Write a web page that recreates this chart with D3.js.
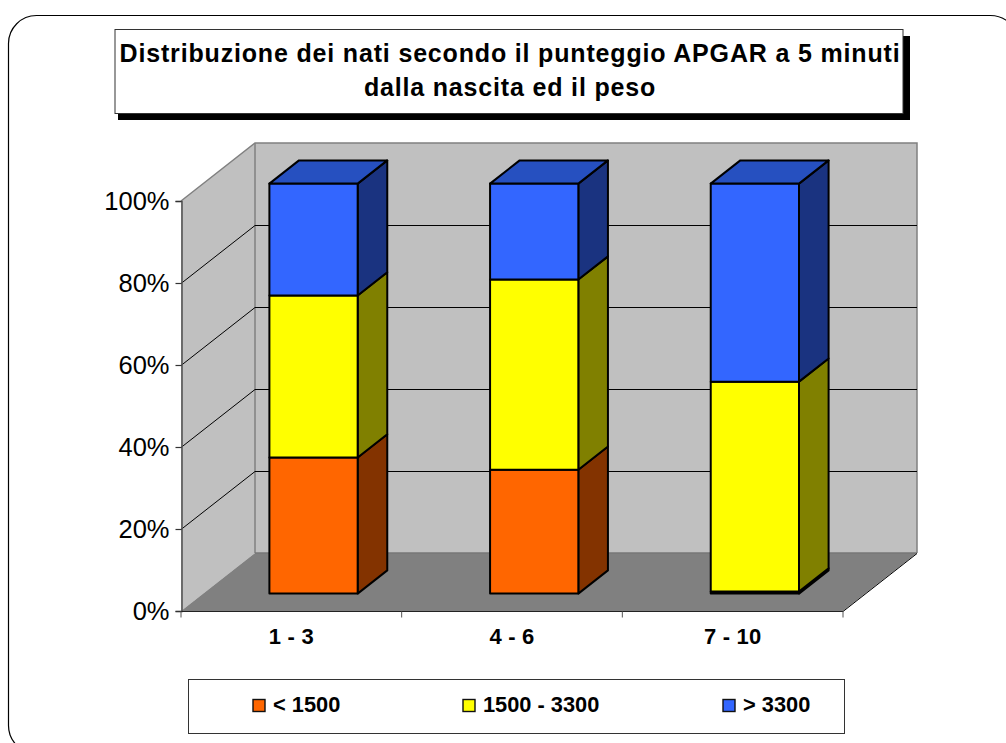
<!DOCTYPE html>
<html><head><meta charset="utf-8">
<script src="https://cdn.jsdelivr.net/npm/d3@7/dist/d3.min.js"></script>
<style>html,body{margin:0;padding:0;background:#fff;overflow:hidden}svg{display:block}text{font-family:"Liberation Sans",Arial,sans-serif}</style>
</head><body><svg id="c" width="1006" height="743"></svg>
<script>
const categories = ["1 - 3", "4 - 6", "7 - 10"];
const seriesNames = ["< 1500", "1500 - 3300", "> 3300"];
const under1500 = [33.2, 30.2, 0.5];
const from1500to3300 = [39.5, 46.4, 51.2];
const over3300 = [27.3, 23.4, 48.3];
const yTickLabels = ["0%", "20%", "40%", "60%", "80%", "100%"];
const titleLines = ["Distribuzione dei nati secondo il punteggio APGAR a 5 minuti", "dalla nascita ed il peso"];
const faceColors = ["#ff6600", "#ffff00", "#3366ff"];
const sideColors = ["#833300", "#808000", "#1a3380"];
const topColors = ["#c45000", "#c4c400", "#2650c0"];

const svg = d3.select("#c");
svg.append("rect").attr("x",8.5).attr("y",15.5).attr("width",1010).attr("height",738).attr("rx",28).attr("ry",28)
  .attr("fill","#fff").attr("stroke","#000").attr("stroke-width",1.2);

// title
svg.append("rect").attr("x",118).attr("y",36).attr("width",792).attr("height",84).attr("fill","#000");
svg.append("rect").attr("x",115).attr("y",29.5).attr("width",788).attr("height",84).attr("fill","#fff").attr("stroke","#333").attr("stroke-width",1);
svg.selectAll("text.title").data(titleLines).join("text").attr("class","title")
  .attr("x",510).attr("y",(d,i)=>62+i*34).attr("text-anchor","middle")
  .attr("font-size",25).attr("letter-spacing",0.83).attr("font-weight","bold").attr("fill","#000").text(d=>d);

// scales
const band = d3.scaleBand().domain(categories).range([181,843]);
const y = d3.scaleLinear().domain([0,100]).range([611,201]);
const depthX = d3.scaleLinear().domain([0,1]).range([0,74]);
const depthY = d3.scaleLinear().domain([0,1]).range([0,-58]);
const P = (px,v,dep)=>[px+depthX(dep), y(v)+depthY(dep)];
const line = d3.line();
const poly = pts => line(pts)+"Z";
const xL=181,xR=843;

// walls and floor
svg.append("path").attr("d",poly([P(xL,0,0),P(xL,100,0),P(xL,100,1),P(xL,0,1)])).attr("fill","#c0c0c0");
svg.append("path").attr("d",poly([P(xL,0,1),P(xL,100,1),P(xR,100,1),P(xR,0,1)])).attr("fill","#c0c0c0");
svg.append("path").attr("d",poly([P(xL,0,0),P(xL,0,1),P(xR,0,1),P(xR,0,0)])).attr("fill","#808080");
// wall edges
svg.append("path").attr("d",line([P(xL,100,0),P(xL,100,1),P(xR,100,1),P(xR,0,1)])).attr("fill","none").attr("stroke","#808080").attr("stroke-width",1.5);
svg.append("path").attr("d",line([P(xL,0,1),P(xL,100,1)])).attr("fill","none").attr("stroke","#808080").attr("stroke-width",1.5);
svg.append("path").attr("d",line([P(xL,0,1),P(xR,0,1)])).attr("fill","none").attr("stroke","#777").attr("stroke-width",1.5);
// gridlines
const grid = svg.append("g").attr("transform","translate(0,0.5)");
[20,40,60,80].forEach(v=>{
  grid.append("path").attr("d",line([P(xL,v,0),P(xL,v,1),P(xR,v,1)])).attr("fill","none").attr("stroke","#000").attr("stroke-width",1);
});
grid.append("path").attr("d",line([P(xR,0,0),P(xR,0,1)])).attr("fill","none").attr("stroke","#000").attr("stroke-width",1);

// axes
const yAxis = d3.axisLeft(y).tickValues([0,20,40,60,80,100]).tickSize(6).tickPadding(6).tickFormat((d,i)=>yTickLabels[i]);
const gy = svg.append("g").attr("transform","translate(181.5,0)").call(yAxis);
gy.selectAll("text").attr("font-size",25.5).attr("fill","#000").style("font-family","'Liberation Sans',Arial,sans-serif").attr("dy","0.34em");
gy.selectAll("path").attr("stroke","#555").attr("stroke-width",1.6);
gy.selectAll("line").attr("stroke","#333").attr("stroke-width",1.2);
const gx = svg.append("g").attr("transform","translate(0,611.5)");
gx.append("line").attr("x1",xL).attr("x2",xR).attr("stroke","#222").attr("stroke-width",1.2);
[0,1,2,3].forEach(i=>{
  const px = xL+i*band.step();
  gx.append("line").attr("x1",px).attr("x2",px).attr("y1",0).attr("y2",6).attr("stroke","#555").attr("stroke-width",1);
});
svg.selectAll("text.cat").data(categories).join("text").attr("class","cat")
  .attr("x",d=>band(d)+band.bandwidth()/2).attr("y",644).attr("text-anchor","middle")
  .attr("font-size",22).attr("letter-spacing",0.2).attr("font-weight","bold").attr("fill","#000").text(d=>d);

// bars
const bw = band.bandwidth()/2.5;
const dFront=0.3, dBack=0.7;
const series = [under1500, from1500to3300, over3300];
categories.forEach((c,ci)=>{
  const x0 = band(c)+band.bandwidth()/2-bw/2;
  const x1 = x0+bw;
  let acc=0;
  const g = svg.append("g");
  series.forEach((vals,si)=>{
    const a=acc, b=acc+vals[ci]; acc=b;
    const st={stroke:"#000","stroke-width":2,"stroke-linejoin":"round"};
    const add=(pts,fill)=>{const p=g.append("path").attr("d",poly(pts)).attr("fill",fill);Object.entries(st).forEach(([k,v])=>p.attr(k,v));};
    add([P(x1,a,dFront),P(x1,a,dBack),P(x1,b,dBack),P(x1,b,dFront)],sideColors[si]);
    add([P(x0,a,dFront),P(x1,a,dFront),P(x1,b,dFront),P(x0,b,dFront)],faceColors[si]);
    if(si===series.length-1) add([P(x0,b,dFront),P(x1,b,dFront),P(x1,b,dBack),P(x0,b,dBack)],topColors[si]);
  });
});

// legend
svg.append("rect").attr("x",188.5).attr("y",679.5).attr("width",656).attr("height",54).attr("fill","#fff").attr("stroke","#333").attr("stroke-width",1);
const legX=[253,463,723];
seriesNames.forEach((n,i)=>{
  svg.append("rect").attr("x",legX[i]).attr("y",699.5).attr("width",12).attr("height",12).attr("fill",faceColors[i]).attr("stroke","#111").attr("stroke-width",1.4);
  svg.append("text").attr("x",legX[i]+20).attr("y",712).attr("font-size",21.8).attr("font-weight","bold").attr("fill","#000").text(n);
});
</script></body></html>
